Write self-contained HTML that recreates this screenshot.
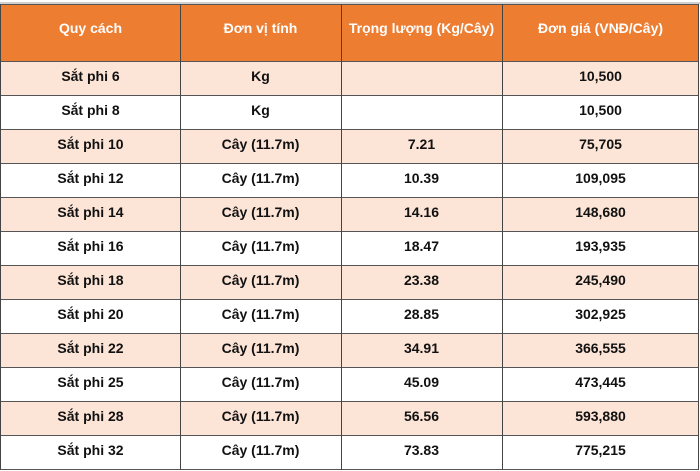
<!DOCTYPE html>
<html><head><meta charset="utf-8"><style>
body{margin:0;width:700px;height:471px;background:#fff;overflow:hidden;font-family:"Liberation Sans",sans-serif;font-weight:bold;}
.t{position:absolute;left:0;top:0;width:700px;height:471px;}
.topline{position:absolute;left:0;top:2px;width:700px;height:2px;background:#d0d0d0}
.r{position:absolute;left:1px;width:698px;height:34px;border-bottom:1px solid #555;box-sizing:border-box}
.c{position:absolute;top:0;height:100%;display:flex;align-items:center;justify-content:center;font-size:14px;color:#111;box-sizing:border-box;padding-bottom:6px}
.h .c{color:#fff;font-size:14px;padding-bottom:10px}
.v{position:absolute;top:4px;width:1px;height:466px;background:#444}
</style></head><body>
<div class="t">
<div class="topline"></div>
<div class="r h" style="top:4px;height:58px;background:#ED7D31;border-top:1px solid #555">
<div class="c" style="left:0;width:179px">Quy cách</div>
<div class="c" style="left:179px;width:161px">Đơn vị tính</div>
<div class="c" style="left:340px;width:161px">Trọng lượng (Kg/Cây)</div>
<div class="c" style="left:501px;width:197px">Đơn giá (VNĐ/Cây)</div>
</div>
<div class="r" style="top:62px;background:#FCE4D6"><div class="c" style="left:0;width:179px">Sắt phi 6</div><div class="c" style="left:179px;width:161px">Kg</div><div class="c" style="left:340px;width:161px"></div><div class="c" style="left:501px;width:197px">10,500</div></div>
<div class="r" style="top:96px;background:#fff"><div class="c" style="left:0;width:179px">Sắt phi 8</div><div class="c" style="left:179px;width:161px">Kg</div><div class="c" style="left:340px;width:161px"></div><div class="c" style="left:501px;width:197px">10,500</div></div>
<div class="r" style="top:130px;background:#FCE4D6"><div class="c" style="left:0;width:179px">Sắt phi 10</div><div class="c" style="left:179px;width:161px">Cây (11.7m)</div><div class="c" style="left:340px;width:161px">7.21</div><div class="c" style="left:501px;width:197px">75,705</div></div>
<div class="r" style="top:164px;background:#fff"><div class="c" style="left:0;width:179px">Sắt phi 12</div><div class="c" style="left:179px;width:161px">Cây (11.7m)</div><div class="c" style="left:340px;width:161px">10.39</div><div class="c" style="left:501px;width:197px">109,095</div></div>
<div class="r" style="top:198px;background:#FCE4D6"><div class="c" style="left:0;width:179px">Sắt phi 14</div><div class="c" style="left:179px;width:161px">Cây (11.7m)</div><div class="c" style="left:340px;width:161px">14.16</div><div class="c" style="left:501px;width:197px">148,680</div></div>
<div class="r" style="top:232px;background:#fff"><div class="c" style="left:0;width:179px">Sắt phi 16</div><div class="c" style="left:179px;width:161px">Cây (11.7m)</div><div class="c" style="left:340px;width:161px">18.47</div><div class="c" style="left:501px;width:197px">193,935</div></div>
<div class="r" style="top:266px;background:#FCE4D6"><div class="c" style="left:0;width:179px">Sắt phi 18</div><div class="c" style="left:179px;width:161px">Cây (11.7m)</div><div class="c" style="left:340px;width:161px">23.38</div><div class="c" style="left:501px;width:197px">245,490</div></div>
<div class="r" style="top:300px;background:#fff"><div class="c" style="left:0;width:179px">Sắt phi 20</div><div class="c" style="left:179px;width:161px">Cây (11.7m)</div><div class="c" style="left:340px;width:161px">28.85</div><div class="c" style="left:501px;width:197px">302,925</div></div>
<div class="r" style="top:334px;background:#FCE4D6"><div class="c" style="left:0;width:179px">Sắt phi 22</div><div class="c" style="left:179px;width:161px">Cây (11.7m)</div><div class="c" style="left:340px;width:161px">34.91</div><div class="c" style="left:501px;width:197px">366,555</div></div>
<div class="r" style="top:368px;background:#fff"><div class="c" style="left:0;width:179px">Sắt phi 25</div><div class="c" style="left:179px;width:161px">Cây (11.7m)</div><div class="c" style="left:340px;width:161px">45.09</div><div class="c" style="left:501px;width:197px">473,445</div></div>
<div class="r" style="top:402px;background:#FCE4D6"><div class="c" style="left:0;width:179px">Sắt phi 28</div><div class="c" style="left:179px;width:161px">Cây (11.7m)</div><div class="c" style="left:340px;width:161px">56.56</div><div class="c" style="left:501px;width:197px">593,880</div></div>
<div class="r" style="top:436px;background:#fff"><div class="c" style="left:0;width:179px">Sắt phi 32</div><div class="c" style="left:179px;width:161px">Cây (11.7m)</div><div class="c" style="left:340px;width:161px">73.83</div><div class="c" style="left:501px;width:197px">775,215</div></div>
<div class="v" style="left:0"></div>
<div class="v" style="left:180px"></div>
<div class="v" style="left:341px"></div>
<div class="v" style="left:502px"></div>
<div class="v" style="left:698px"></div>
</div>
</body></html>
